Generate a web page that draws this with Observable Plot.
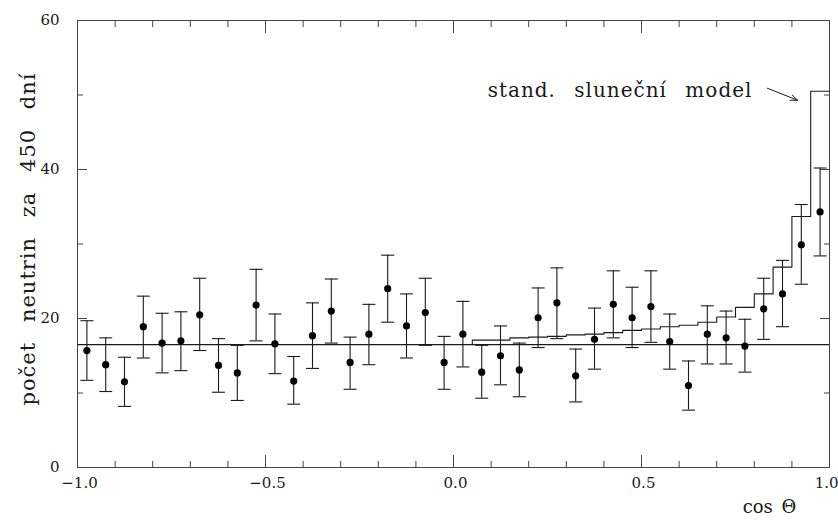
<!DOCTYPE html>
<html>
<head>
<meta charset="utf-8">
<script src="https://cdn.jsdelivr.net/npm/d3@7"></script>
<script src="https://cdn.jsdelivr.net/npm/@observablehq/plot@0.6"></script>
<style>
  html, body { margin: 0; padding: 0; background: #fff; }
  #chart svg { display: block; }
</style>
</head>
<body>
<div id="chart"></div>
<script>
// ---- data ----
const binCenters = [-0.975, -0.925, -0.875, -0.825, -0.775, -0.725, -0.675, -0.625, -0.575, -0.525,
  -0.475, -0.425, -0.375, -0.325, -0.275, -0.225, -0.175, -0.125, -0.075, -0.025,
  0.025, 0.075, 0.125, 0.175, 0.225, 0.275, 0.325, 0.375, 0.425, 0.475,
  0.525, 0.575, 0.625, 0.675, 0.725, 0.775, 0.825, 0.875, 0.925, 0.975];
const counts = [15.7, 13.8, 11.5, 18.9, 16.7, 17.0, 20.5, 13.7, 12.7, 21.8,
  16.6, 11.6, 17.7, 21.0, 14.1, 17.9, 24.0, 19.0, 20.8, 14.1,
  17.9, 12.8, 15.0, 13.1, 20.1, 22.1, 12.3, 17.2, 21.9, 20.1,
  21.6, 16.9, 11.0, 17.9, 17.4, 16.3, 21.3, 23.3, 29.9, 34.3];
const errHigh = [19.7, 17.4, 14.8, 23.0, 20.7, 20.9, 25.4, 17.3, 16.4, 26.6,
  20.6, 14.9, 22.1, 25.3, 17.5, 21.9, 28.5, 23.3, 25.4, 17.6,
  22.3, 16.4, 19.0, 16.7, 24.1, 26.8, 15.9, 21.4, 26.4, 24.2,
  26.4, 20.6, 14.3, 21.7, 21.0, 19.9, 25.4, 27.8, 35.3, 40.2];
const errLow = [11.7, 10.2, 8.2, 14.7, 12.7, 13.0, 15.7, 10.1, 9.0, 17.0,
  12.6, 8.5, 13.3, 16.7, 10.5, 13.8, 19.5, 14.7, 16.4, 10.5,
  13.5, 9.3, 11.1, 9.5, 16.1, 17.3, 8.8, 13.2, 17.4, 16.1,
  16.8, 13.2, 7.7, 13.9, 13.9, 12.8, 17.2, 18.9, 24.6, 28.4];

const flatLevel = 16.5; // horizontal reference line
const modelEdges = [0.05, 0.10, 0.15, 0.20, 0.25, 0.30, 0.35, 0.40, 0.45, 0.50,
  0.55, 0.60, 0.65, 0.70, 0.75, 0.80, 0.85, 0.90, 0.95, 1.00];
const modelValues = [17.1, 17.1, 17.4, 17.5, 17.6, 17.8, 17.9, 18.1, 18.4, 18.6,
  18.9, 19.1, 19.5, 20.2, 21.5, 23.3, 26.9, 33.7, 50.5];

const xMajorTicks = [-1.0, -0.5, 0.0, 0.5, 1.0];
const xMinorTicks = [-0.9, -0.8, -0.7, -0.6, -0.4, -0.3, -0.2, -0.1, 0.1, 0.2, 0.3, 0.4, 0.6, 0.7, 0.8, 0.9];
const xLabelTicks = [-1.0, -0.5, 0.0, 0.5];
const xLastLabelTick = [1.0];
const yMajorTicks = [0, 20, 40, 60];
const yMinorTicks = [10, 30, 50];

const yLabel = "počet neutrin za 450 dní";
const xLabel = "cos Θ";
const modelLabel = "stand. sluneční model";
const modelLabelPos = [0.795, 50.6];
const arrowFrom = [0.835, 50.9];
const arrowTo = [0.915, 49.3];

// ---- tables built from the arrays ----
const points = binCenters.map((x, i) => ({x, y: counts[i], lo: errLow[i], hi: errHigh[i]}));
const capLow = points.map(d => ({x: d.x, y: d.lo}));
const capHigh = points.map(d => ({x: d.x, y: d.hi}));
const model = [{x: modelEdges[0], y: flatLevel}].concat(
  modelValues.map((v, i) => ({x: modelEdges[i + 1], y: v})));

const capSymbol = { draw(ctx) { ctx.moveTo(-6.5, 0); ctx.lineTo(6.5, 0); } };

const ink = "#1a1a1a";
const serif = "DejaVu Serif";
const fmtX = d3.format(".1f");

const plot = Plot.plot({
  width: 838,
  height: 521,
  marginLeft: 77,
  marginRight: 9,
  marginTop: 20,
  marginBottom: 54,
  style: { fontFamily: serif, background: "#fff", color: ink },
  x: { domain: [-1, 1] },
  y: { domain: [0, 60] },
  marks: [
    Plot.frame({ stroke: "#444" }),
    // inward ticks on all sides
    Plot.axisX(xMinorTicks, { anchor: "bottom", tickSize: -6, fill: "none", label: null, stroke: "#444" }),
    Plot.axisX(xMajorTicks, { anchor: "bottom", tickSize: -12, fill: "none", label: null, stroke: "#444" }),
    Plot.axisX(xMinorTicks, { anchor: "top", tickSize: -6, fill: "none", label: null, stroke: "#444" }),
    Plot.axisX(xMajorTicks, { anchor: "top", tickSize: -12, fill: "none", label: null, stroke: "#444" }),
    Plot.axisY(yMinorTicks, { anchor: "left", tickSize: -6, fill: "none", label: null, stroke: "#444" }),
    Plot.axisY(yMajorTicks, { anchor: "left", tickSize: -10, fill: "none", label: null, stroke: "#444" }),
    Plot.axisY(yMinorTicks, { anchor: "right", tickSize: -6, fill: "none", label: null, stroke: "#444" }),
    Plot.axisY(yMajorTicks, { anchor: "right", tickSize: -10, fill: "none", label: null, stroke: "#444" }),
    // tick labels
    Plot.axisX(xLabelTicks, { anchor: "bottom", tickSize: 0, tickPadding: 10, tickFormat: fmtX, label: null, fontSize: 15, fill: ink, dx: 2 }),
    Plot.axisX(xLastLabelTick, { anchor: "bottom", tickSize: 0, tickPadding: 10, tickFormat: fmtX, label: null, fontSize: 15, fill: ink, textAnchor: "end", dx: 9 }),
    Plot.axisY(yMajorTicks, { anchor: "left", tickSize: 0, tickPadding: 18, tickFormat: d3.format("d"), label: null, fontSize: 15, fill: ink }),
    // flat line
    Plot.ruleY([flatLevel], { stroke: ink, strokeWidth: 1.1 }),
    // model step histogram
    Plot.line(model, { x: "x", y: "y", curve: "step-before", stroke: ink, strokeWidth: 1.1 }),
    // error bars
    Plot.ruleX(points, { x: "x", y1: "lo", y2: "hi", stroke: ink, strokeWidth: 1.1 }),
    Plot.dot(capLow, { x: "x", y: "y", symbol: capSymbol, r: 4, fill: "none", stroke: ink, strokeWidth: 1.1 }),
    Plot.dot(capHigh, { x: "x", y: "y", symbol: capSymbol, r: 4, fill: "none", stroke: ink, strokeWidth: 1.1 }),
    // data points
    Plot.dot(points, { x: "x", y: "y", r: 3.6, fill: "#000", stroke: null }),
    // annotation
    Plot.text([modelLabel], { x: modelLabelPos[0], y: modelLabelPos[1], textAnchor: "end", fontSize: 20, fill: ink }),
    Plot.arrow([0], { x1: arrowFrom[0], y1: arrowFrom[1], x2: arrowTo[0], y2: arrowTo[1], stroke: ink, strokeWidth: 1, headLength: 11, headAngle: 45 }),
    // axis titles
    Plot.text([yLabel], { frameAnchor: "left", textAnchor: "middle", dx: -49, dy: -5, rotate: -90, fontSize: 21, fill: ink }),
    Plot.text([xLabel], { frameAnchor: "bottom-right", dx: -60, dy: 45, textAnchor: "middle", fontSize: 18, fill: ink })
  ]
});

document.getElementById("chart").appendChild(plot);

// letter / word spacing to mimic the wide plotting font
d3.select(plot).selectAll("text").each(function () {
  const t = this.textContent;
  if (t === yLabel) { this.style.letterSpacing = "1px"; this.style.wordSpacing = "12px"; }
  if (t === modelLabel) { this.style.letterSpacing = "1px"; this.style.wordSpacing = "11px"; }
  if (t === xLabel) { this.style.wordSpacing = "3px"; }
});
</script>
</body>
</html>
